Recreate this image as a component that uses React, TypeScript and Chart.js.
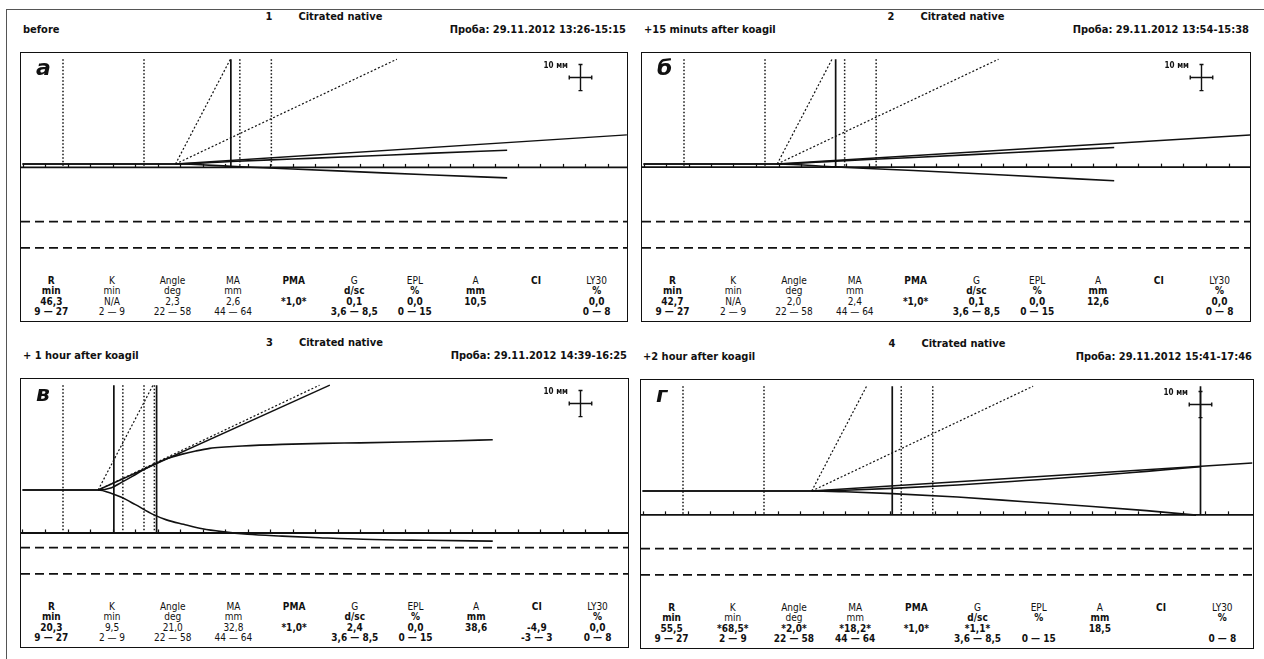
import React, { useEffect, useRef } from "react";
import { Chart, registerables } from "chart.js";

Chart.register(...registerables);

const INK = "#111111";
const FONT = "'DejaVu Sans Condensed', 'DejaVu Sans', sans-serif";

// ---- shared scale data (time in minutes, amplitude in mm each side of baseline)
const PX_PER_MIN = 4.5;
const PX_PER_MM = 2.62;
const ORIGIN_OFFSET_PX = 1.5;
const BASELINE_OFFSET_PX = 111;
const CANVAS_H = 212;
const BOX_H = 270;

const AXIS_TICK_MIN = [0, 5, 10, 15, 20, 25, 30, 35, 40, 45, 50, 55, 60, 65, 70, 75, 80, 85, 90, 95, 100, 105, 110, 115, 120, 125, 130];
const R_NORMAL_MIN = [9, 27];
const MA_NORMAL_HALF_MM = [-22, -32];
const GUIDE_TOP_MM = 40;
const ANGLE_GUIDE_RUN_MIN = [12.2, 49.2];
const SCALE_BAR_MIN = 124;
const SCALE_BAR_MM = 33;
const SCALE_BAR_HALF_MM = 5;
const SCALE_BAR_HALF_MIN = 2.5;
const SCALE_BAR_LABEL = "10 мм";
const SCALE_LABEL_MIN = 121.2;
const SCALE_LABEL_MM = 37.4;

const PARAM_NAMES = ["R", "K", "Angle", "MA", "PMA", "G", "EPL", "A", "CI", "LY30"];
const PARAM_UNITS = ["min", "min", "deg", "mm", "", "d/sc", "%", "mm", "", "%"];
const NAME_BOLD = [true, false, false, false, true, false, false, false, true, false];
const UNIT_BOLD = [true, false, false, false, true, true, true, true, true, true];

// ---- panel а (before)
const A_UPPER_T = [0, 34, 46.3, 60, 75, 90, 107.7];
const A_UPPER_MM = [0, 0, 0.95, 1.9, 2.95, 4.05, 5.25];
const A_LOWER_T = [0, 34, 46.3, 60, 75, 90, 107.7];
const A_LOWER_MM = [0, 0, -0.9, -1.9, -3.0, -4.1, -5.3];
const A_TANGENT_T = [34, 134.3];
const A_TANGENT_MM = [0, 11.1];
const A_SOLID_MARK_MIN = [46.3];
const A_DOTTED_MARK_MIN = [48.3, 55.3];
const A_AXIS_MM = -1.3;
const A_VALUES = ["46,3", "N/A", "2,3", "2,6", "*1,0*", "0,1", "0,0", "10,5", "", "0,0"];
const A_NORMS = ["9 — 27", "2 — 9", "22 — 58", "44 — 64", "", "3,6 — 8,5", "0 — 15", "", "", "0 — 8"];

// ---- panel б (+15 min)
const B_UPPER_T = [0, 29.7, 42.7, 60, 80, 104.6];
const B_UPPER_MM = [0, 0, 1.1, 2.5, 4.2, 6.3];
const B_LOWER_T = [0, 29.7, 42.7, 60, 80, 104.6];
const B_LOWER_MM = [0, 0, -1.1, -2.5, -4.2, -6.4];
const B_TANGENT_T = [29.7, 134.8];
const B_TANGENT_MM = [0, 11.1];
const B_SOLID_MARK_MIN = [42.7];
const B_DOTTED_MARK_MIN = [44.7, 51.7];
const B_AXIS_MM = -1.2;
const B_VALUES = ["42,7", "N/A", "2,0", "2,4", "*1,0*", "0,1", "0,0", "12,6", "", "0,0"];
const B_NORMS = ["9 — 27", "2 — 9", "22 — 58", "44 — 64", "", "3,6 — 8,5", "0 — 15", "", "", "0 — 8"];

// ---- panel в (+1 hour)
const C_UPPER_T = [0, 16.8, 19.8, 21.9, 24.5, 27.1, 29.5, 32, 35.3, 38.5, 41.6, 45, 48.8, 57.7, 66.7, 75, 84.6, 95, 104.5];
const C_UPPER_MM = [0, 0, 0.9, 2.8, 5.3, 7.9, 10.0, 11.9, 13.6, 14.9, 15.9, 16.4, 16.8, 17.4, 17.8, 18.0, 18.3, 18.7, 19.2];
const C_LOWER_T = [0, 16.8, 19.8, 22, 25, 29, 32, 35.8, 40, 44.3, 50, 57.7, 66, 75.7, 90, 104.5];
const C_LOWER_MM = [0, 0, -1.3, -2.8, -5.5, -9.3, -11.4, -13.1, -14.8, -15.9, -16.9, -17.6, -18.2, -18.8, -19.2, -19.5];
const C_TANGENT_T = [16.8, 68.3];
const C_TANGENT_MM = [0, 40];
const C_SOLID_MARK_MIN = [20.3, 29.8];
const C_DOTTED_MARK_MIN = [22.3, 29.3];
const C_AXIS_MM = -16.4;
const C_VALUES = ["20,3", "9,5", "21,0", "32,8", "*1,0*", "2,4", "0,0", "38,6", "-4,9", "0,0"];
const C_NORMS = ["9 — 27", "2 — 9", "22 — 58", "44 — 64", "", "3,6 — 8,5", "0 — 15", "", "-3 — 3", "0 — 8"];

// ---- panel г (+2 hour)
const D_UPPER_T = [0, 37.6, 45, 55.5, 70, 85, 100, 112, 124];
const D_UPPER_MM = [0, 0, 0.3, 1.0, 2.3, 4.0, 5.8, 7.5, 9.25];
const D_LOWER_T = [0, 37.6, 45, 55.5, 70, 85, 100, 112, 123];
const D_LOWER_MM = [0, 0, -0.3, -1.0, -2.3, -4.1, -5.9, -7.5, -9.2];
const D_TANGENT_T = [37.6, 135.5];
const D_TANGENT_MM = [0, 10.7];
const D_SOLID_MARK_MIN = [55.5, 124];
const D_DOTTED_MARK_MIN = [57.5, 64.5];
const D_AXIS_MM = -9.1;
const D_VALUES = ["55,5", "*68,5*", "*2,0*", "*18,2*", "*1,0*", "*1,1*", "", "18,5", "", ""];
const D_NORMS = ["9 — 27", "2 — 9", "22 — 58", "44 — 64", "", "3,6 — 8,5", "0 — 15", "", "", "0 — 8"];

type PanelSpec = {
  letter: string;
  num: string;
  caption: string;
  sample: string;
  left: number;
  top: number;
  width: number;
  upperT: number[];
  upperMm: number[];
  lowerT: number[];
  lowerMm: number[];
  tangentT: number[];
  tangentMm: number[];
  solidMarks: number[];
  dottedMarks: number[];
  axisMm: number;
  values: string[];
  norms: string[];
  allValuesBold: boolean;
};

const PANELS: PanelSpec[] = [
  {
    letter: "а", num: "1", caption: "before", sample: "Проба: 29.11.2012 13:26-15:15",
    left: 20, top: 52, width: 608,
    upperT: A_UPPER_T, upperMm: A_UPPER_MM, lowerT: A_LOWER_T, lowerMm: A_LOWER_MM,
    tangentT: A_TANGENT_T, tangentMm: A_TANGENT_MM,
    solidMarks: A_SOLID_MARK_MIN, dottedMarks: A_DOTTED_MARK_MIN, axisMm: A_AXIS_MM,
    values: A_VALUES, norms: A_NORMS, allValuesBold: false,
  },
  {
    letter: "б", num: "2", caption: "+15 minuts after koagil", sample: "Проба: 29.11.2012 13:54-15:38",
    left: 641, top: 52, width: 610,
    upperT: B_UPPER_T, upperMm: B_UPPER_MM, lowerT: B_LOWER_T, lowerMm: B_LOWER_MM,
    tangentT: B_TANGENT_T, tangentMm: B_TANGENT_MM,
    solidMarks: B_SOLID_MARK_MIN, dottedMarks: B_DOTTED_MARK_MIN, axisMm: B_AXIS_MM,
    values: B_VALUES, norms: B_NORMS, allValuesBold: false,
  },
  {
    letter: "в", num: "3", caption: "+ 1 hour after koagil", sample: "Проба: 29.11.2012 14:39-16:25",
    left: 20, top: 378, width: 609,
    upperT: C_UPPER_T, upperMm: C_UPPER_MM, lowerT: C_LOWER_T, lowerMm: C_LOWER_MM,
    tangentT: C_TANGENT_T, tangentMm: C_TANGENT_MM,
    solidMarks: C_SOLID_MARK_MIN, dottedMarks: C_DOTTED_MARK_MIN, axisMm: C_AXIS_MM,
    values: C_VALUES, norms: C_NORMS, allValuesBold: false,
  },
  {
    letter: "г", num: "4", caption: "+2 hour after koagil", sample: "Проба: 29.11.2012 15:41-17:46",
    left: 640, top: 379, width: 614,
    upperT: D_UPPER_T, upperMm: D_UPPER_MM, lowerT: D_LOWER_T, lowerMm: D_LOWER_MM,
    tangentT: D_TANGENT_T, tangentMm: D_TANGENT_MM,
    solidMarks: D_SOLID_MARK_MIN, dottedMarks: D_DOTTED_MARK_MIN, axisMm: D_AXIS_MM,
    values: D_VALUES, norms: D_NORMS, allValuesBold: true,
  },
];

const overlayPlugin = {
  id: "tegOverlay",
  afterDatasetsDraw(chart: any, _args: any, opts: any) {
    const ctx: CanvasRenderingContext2D = chart.ctx;
    const xs = chart.scales.x;
    const ys = chart.scales.y;
    ctx.save();
    ctx.strokeStyle = INK;
    ctx.lineWidth = 1.2;
    const ay = ys.getPixelForValue(opts.axisMm);
    for (const t of AXIS_TICK_MIN) {
      const px = Math.round(xs.getPixelForValue(t)) + 0.5;
      ctx.beginPath();
      ctx.moveTo(px, ay);
      ctx.lineTo(px, ay - 3.5);
      ctx.stroke();
    }
    const cx = xs.getPixelForValue(SCALE_BAR_MIN);
    const cy = ys.getPixelForValue(SCALE_BAR_MM);
    const yTop = ys.getPixelForValue(SCALE_BAR_MM + SCALE_BAR_HALF_MM);
    const yBot = ys.getPixelForValue(SCALE_BAR_MM - SCALE_BAR_HALF_MM);
    const xL = xs.getPixelForValue(SCALE_BAR_MIN - SCALE_BAR_HALF_MIN);
    const xR = xs.getPixelForValue(SCALE_BAR_MIN + SCALE_BAR_HALF_MIN);
    ctx.lineWidth = 1.4;
    ctx.beginPath();
    ctx.moveTo(cx, yTop); ctx.lineTo(cx, yBot);
    ctx.moveTo(xL, cy); ctx.lineTo(xR, cy);
    ctx.moveTo(cx - 2, yTop); ctx.lineTo(cx + 2, yTop);
    ctx.moveTo(cx - 2, yBot); ctx.lineTo(cx + 2, yBot);
    ctx.moveTo(xL, cy - 2); ctx.lineTo(xL, cy + 2);
    ctx.moveTo(xR, cy - 2); ctx.lineTo(xR, cy + 2);
    ctx.stroke();
    ctx.font = `bold 8px ${FONT}`;
    ctx.fillStyle = INK;
    ctx.textAlign = "right";
    ctx.textBaseline = "middle";
    ctx.fillText(SCALE_BAR_LABEL, xs.getPixelForValue(SCALE_LABEL_MIN), ys.getPixelForValue(SCALE_LABEL_MM));
    ctx.restore();
  },
};

function seg(ts: number[], ys: number[], extra: any) {
  return {
    data: ts.map((t, i) => ({ x: t, y: ys[i] })),
    borderColor: INK,
    borderWidth: 1.4,
    pointRadius: 0,
    fill: false,
    tension: 0,
    ...extra,
  };
}

function Panel({ p }: { p: PanelSpec }) {
  const ref = useRef<HTMLCanvasElement>(null);
  const innerW = p.width - 2;

  useEffect(() => {
    const xMin = -ORIGIN_OFFSET_PX / PX_PER_MIN;
    const xMax = xMin + innerW / PX_PER_MIN;
    const yMax = BASELINE_OFFSET_PX / PX_PER_MM;
    const yMin = yMax - CANVAS_H / PX_PER_MM;
    const split = p.upperT[1];

    const datasets: any[] = [];
    for (const m of MA_NORMAL_HALF_MM) {
      datasets.push(seg([xMin, xMax], [m, m], { borderDash: [9, 5], borderWidth: 1.9 }));
    }
    for (const t of [...R_NORMAL_MIN, ...p.dottedMarks]) {
      datasets.push(seg([t, t], [GUIDE_TOP_MM, p.axisMm], { borderDash: [1.6, 1.9], borderWidth: 1.5 }));
    }
    for (const t of p.solidMarks) {
      datasets.push(seg([t, t], [GUIDE_TOP_MM, p.axisMm], { borderWidth: 1.7 }));
    }
    for (const run of ANGLE_GUIDE_RUN_MIN) {
      datasets.push(seg([split, split + run], [0, GUIDE_TOP_MM], { borderDash: [2, 2], borderWidth: 1.2 }));
    }
    datasets.push(seg([xMin, xMax], [p.axisMm, p.axisMm], { borderWidth: 1.9 }));
    datasets.push(seg(p.tangentT, p.tangentMm, { borderWidth: 1.4 }));
    datasets.push(seg(p.upperT, p.upperMm, { cubicInterpolationMode: "monotone", borderWidth: 1.6 }));
    datasets.push(seg(p.lowerT, p.lowerMm, { cubicInterpolationMode: "monotone", borderWidth: 1.6 }));

    const chart = new Chart(ref.current as HTMLCanvasElement, {
      type: "line",
      data: { datasets },
      options: {
        animation: false,
        responsive: false,
        maintainAspectRatio: false,
        devicePixelRatio: 1,
        events: [],
        layout: { padding: 0 },
        plugins: {
          legend: { display: false },
          tooltip: { enabled: false },
          title: { display: false },
          tegOverlay: { axisMm: p.axisMm },
        } as any,
        scales: {
          x: { type: "linear", min: xMin, max: xMax, display: false },
          y: { type: "linear", min: yMin, max: yMax, display: false },
        },
      },
      plugins: [overlayPlugin as any],
    });
    return () => chart.destroy();
  }, []);

  const headerBase: React.CSSProperties = {
    position: "absolute",
    fontFamily: FONT,
    fontWeight: "bold",
    fontSize: 11,
    lineHeight: "13px",
    whiteSpace: "nowrap",
    color: INK,
  };
  const colW = innerW / 10;
  const rowStyle = (bold: boolean): React.CSSProperties => ({
    width: colW,
    textAlign: "center",
    fontWeight: bold ? "bold" : "normal",
    whiteSpace: "nowrap",
    height: 10.3,
    lineHeight: "10.3px",
  });

  return (
    <>
      <div style={{ ...headerBase, left: p.left, width: p.width, top: p.top - 42.5, textAlign: "center" }}>
        <span>{p.num}</span>
        <span style={{ marginLeft: 26 }}>Citrated native</span>
      </div>
      <div style={{ ...headerBase, left: p.left + 3, top: p.top - 29.5 }}>{p.caption}</div>
      <div style={{ ...headerBase, left: p.left, width: p.width - 2, top: p.top - 29.5, textAlign: "right" }}>{p.sample}</div>
      <div
        style={{
          position: "absolute",
          left: p.left,
          top: p.top,
          width: p.width,
          height: BOX_H,
          boxSizing: "border-box",
          border: `1px solid ${INK}`,
          background: "#fff",
        }}
      >
        <canvas
          ref={ref}
          width={innerW}
          height={CANVAS_H}
          style={{ position: "absolute", left: 0, top: 0, width: innerW, height: CANVAS_H }}
        />
        <div
          style={{
            position: "absolute",
            left: 15,
            top: 4,
            fontFamily: "'DejaVu Sans', sans-serif",
            fontWeight: "bold",
            fontStyle: "italic",
            fontSize: 22,
            lineHeight: "22px",
            color: INK,
          }}
        >
          {p.letter}
        </div>
        <div
          style={{
            position: "absolute",
            left: 0,
            top: 223,
            width: innerW,
            fontFamily: FONT,
            fontSize: 10,
            color: INK,
            display: "flex",
          }}
        >
          {PARAM_NAMES.map((name, i) => {
            const strong = i === 0 || UNIT_BOLD[i] || p.allValuesBold;
            return (
              <div key={name} style={{ width: colW, display: "flex", flexDirection: "column" }}>
                <div style={rowStyle(NAME_BOLD[i])}>{name}</div>
                <div style={rowStyle(UNIT_BOLD[i])}>{PARAM_UNITS[i]}</div>
                <div style={rowStyle(strong)}>{p.values[i]}</div>
                <div style={rowStyle(strong)}>{p.norms[i]}</div>
              </div>
            );
          })}
        </div>
      </div>
    </>
  );
}

export default function App() {
  return (
    <div
      style={{
        position: "absolute",
        left: 0,
        top: 0,
        width: 1264,
        height: 659,
        background: "#fff",
        overflow: "hidden",
      }}
    >
      <div style={{ position: "absolute", left: 6, top: 9, width: 1258, height: 1, background: "#555" }} />
      <div style={{ position: "absolute", left: 6, top: 9, width: 1, height: 650, background: "#555" }} />
      {PANELS.map((p) => (
        <Panel key={p.num} p={p} />
      ))}
    </div>
  );
}
